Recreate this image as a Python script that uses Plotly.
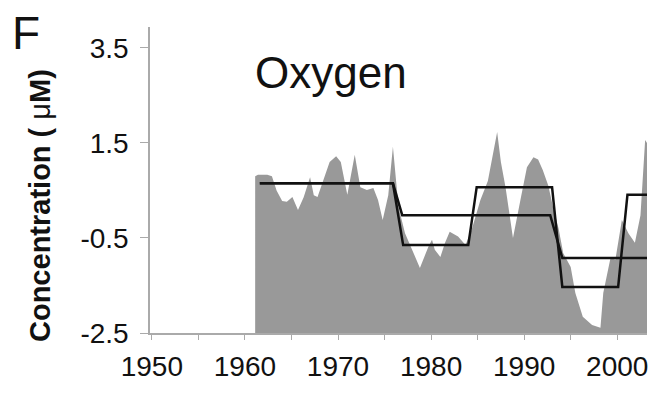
import plotly.graph_objects as go

# Oxygen concentration anomaly (uM)
years = [1961.1, 1961.4, 1962.4, 1962.9, 1963.4, 1964.0, 1964.5, 1965.1, 1965.7, 1966.3,
         1967.0, 1967.4, 1967.8, 1968.6, 1969.1, 1969.8, 1970.3, 1971.0, 1971.8, 1972.4,
         1973.1, 1973.8, 1974.3, 1974.8, 1975.4, 1975.9, 1976.5, 1977.2, 1978.1, 1978.8,
         1979.7, 1980.1, 1980.4, 1981.0, 1981.5, 1982.0, 1982.9, 1983.7, 1984.4, 1985.3,
         1986.1, 1986.7, 1987.1, 1987.5, 1988.0, 1988.5, 1988.8, 1989.6, 1990.3, 1991.0,
         1991.5, 1992.0, 1992.6, 1993.1, 1993.7, 1994.2, 1995.0, 1995.5, 1996.3, 1997.3,
         1998.2, 1998.5, 1999.3, 1999.8, 2000.5, 2001.2, 2001.9, 2002.5, 2003.0, 2003.2]
oxygen = [0.80, 0.83, 0.83, 0.80, 0.50, 0.28, 0.26, 0.36, 0.09, 0.35,
          0.78, 0.40, 0.36, 0.80, 1.10, 1.22, 1.10, 0.41, 1.25, 0.57,
          0.51, 0.55, 0.30, -0.12, 0.40, 1.42, 0.15, -0.40, -0.80, -1.13,
          -0.69, -0.54, -0.75, -0.90, -0.60, -0.37, -0.47, -0.65, -0.30, 0.30,
          0.70, 1.30, 1.73, 1.10, 0.57, -0.10, -0.50, 0.30, 0.99, 1.20,
          1.15, 0.93, 0.60, 0.15, -0.30, -0.82, -1.11, -1.66, -2.16, -2.33,
          -2.39, -1.66, -0.90, -0.96, -0.12, -0.40, -0.60, -0.02, 1.56, 1.50]

# Regime-shift step fits
step1_years = [1961.6, 1975.9, 1976.9, 1992.8, 1994.1, 2003.2]
step1_vals = [0.65, 0.65, -0.02, -0.02, -0.92, -0.92]
step2_years = [1961.6, 1975.9, 1977.0, 1984.0, 1984.9, 1993.0, 1994.1, 2000.1, 2001.1, 2003.2]
step2_vals = [0.65, 0.65, -0.65, -0.65, 0.57, 0.57, -1.53, -1.53, 0.41, 0.41]

x_ticks = [1950, 1960, 1970, 1980, 1990, 2000]
y_ticks = [3.5, 1.5, -0.5, -2.5]
y_base = -2.5

FONT = "Arial, Liberation Sans, sans-serif"
AXC = "#aaaaaa"

fig = go.Figure()
fig.add_trace(go.Scatter(x=[years[0], years[-1]], y=[y_base, y_base], mode="lines",
                         line=dict(width=0), hoverinfo="skip", showlegend=False))
fig.add_trace(go.Scatter(x=years, y=oxygen, mode="lines", fill="tonexty",
                         fillcolor="#999999", line=dict(width=0, color="#999999"),
                         showlegend=False))
fig.add_trace(go.Scatter(x=step1_years, y=step1_vals, mode="lines",
                         line=dict(color="#111111", width=2.5), showlegend=False))
fig.add_trace(go.Scatter(x=step2_years, y=step2_vals, mode="lines",
                         line=dict(color="#111111", width=2.5), showlegend=False))

L, R, T, B = 150, 7, 27, 60
W, H = 654, 393
pw, ph = W - L - R, H - T - B

def px(x):
    return (x - L) / pw

def py(y):
    return (H - B - y) / ph

fig.update_layout(
    width=W, height=H,
    margin=dict(l=L, r=R, t=T, b=B),
    plot_bgcolor="white", paper_bgcolor="white",
    font=dict(family=FONT, color="#111111"),
    xaxis=dict(range=[1949.8, 2003.2], tickvals=x_ticks, ticks="outside", ticklen=5,
               tickcolor=AXC, showline=True, linecolor=AXC, linewidth=1.5,
               showgrid=False, zeroline=False, tickfont=dict(size=28),
               ticklabelstandoff=3,
               minor=dict(dtick=5, tick0=1950, ticks="outside", ticklen=5, tickcolor=AXC)),
    yaxis=dict(range=[-2.5, 3.94], tickvals=y_ticks, ticktext=[str(v) for v in y_ticks],
               ticks="outside", ticklen=8, tickcolor=AXC, showline=True, linecolor=AXC,
               linewidth=1.5, showgrid=False, zeroline=False, tickfont=dict(size=28),
               ticklabelstandoff=6),
    annotations=[
        dict(text="Oxygen", x=px(253), y=py(72), xref="paper", yref="paper",
             xanchor="left", yanchor="middle", showarrow=False,
             font=dict(size=44, family=FONT, color="#111111")),
        dict(text="F", x=px(10), y=py(33), xref="paper", yref="paper",
             xanchor="left", yanchor="middle", showarrow=False,
             font=dict(size=46, family=FONT, color="#111111")),
        dict(text="<b>Concentration ( </b>μ<b>M)</b>", x=px(40), y=py(206), xref="paper",
             yref="paper", xanchor="center", yanchor="middle", textangle=-90,
             showarrow=False, font=dict(size=29, family=FONT, color="#111111")),
    ],
)

fig.write_html("out.html")
